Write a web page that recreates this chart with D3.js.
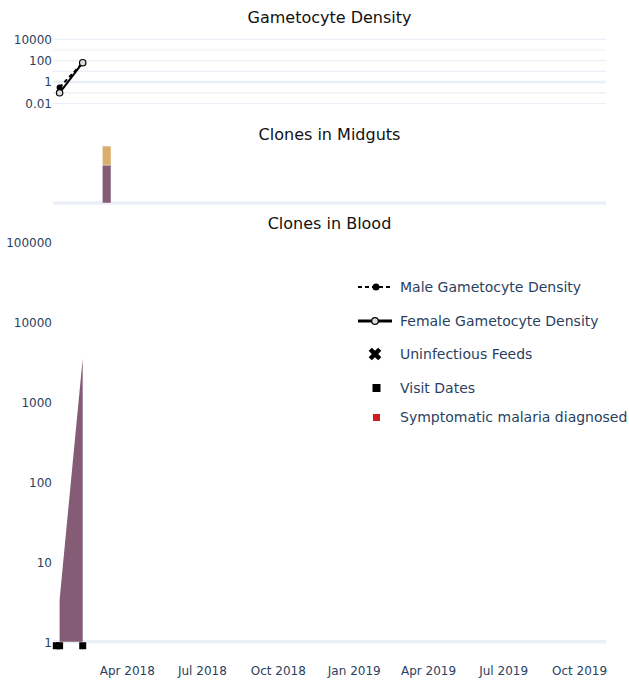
<!DOCTYPE html>
<html>
<head>
<meta charset="utf-8">
<title>Gametocytes and clones</title>
<style>
body{ margin:0; background:#fff; }
svg text{ font-family:"DejaVu Sans", Verdana, sans-serif; }
.tick-label{ font-size:12px; fill:#2a3f5f; }
.panel-title{ font-size:16px; fill:#111; }
.legend-label{ font-size:14px; fill:#2a3f5f; }
</style>
</head>
<body>
<svg id="chart"></svg>
<script src="https://d3js.org/d3.v7.min.js"></script>
<script>
var parse = d3.timeParse("%Y-%m-%d");

// gametocyte density
var gamDates = ["2018-01-09", "2018-02-06"];
var maleGam = [0.32, 65];
var femaleGam = [0.1, 65];

// clones in midguts (stacked)
var midgutDate = "2018-03-07";
var midgutClones = [2, 1];
var cloneColors = ["#855c75", "#d9af6b"];

// clones in blood
var bloodDates = ["2018-01-09", "2018-02-06"];
var bloodDensity = [3.35, 3500];

var visitDates = ["2018-01-05", "2018-01-09", "2018-02-06"];
var visitLevel = 0.89;

var xTicks = ["2018-04-01", "2018-07-01", "2018-10-01", "2019-01-01", "2019-04-01", "2019-07-01", "2019-10-01"];
var xTickLabels = ["Apr 2018", "Jul 2018", "Oct 2018", "Jan 2019", "Apr 2019", "Jul 2019", "Oct 2019"];
var gamGrid = [0.01, 0.1, 1, 10, 100, 1000, 10000];
var gamTicks = [0.01, 1, 100, 10000];
var bloodTicks = [1, 10, 100, 1000, 10000, 100000];

var legendNames = ["Male Gametocyte Density", "Female Gametocyte Density", "Uninfectious Feeds", "Visit Dates", "Symptomatic malaria diagnosed"];

var width = 629, height = 686;
var gridColor = "#ebf0f8";

var svg = d3.select("#chart")
    .attr("width", width)
    .attr("height", height);

var x = d3.scaleTime()
    .domain([parse("2018-01-01"), parse("2019-11-02")])
    .range([53, 606]);

var yGam = d3.scaleLog().domain([0.01, 10000]).range([103.5, 39.3]);
var yMid = d3.scaleLinear().domain([0, 3.16]).range([203, 143]);
var yBlood = d3.scaleLog().domain([1, 100000]).range([641.7, 241.7]);

// titles
var titles = [["Gametocyte Density", 17], ["Clones in Midguts", 134], ["Clones in Blood", 223]];
svg.selectAll(".panel-title")
    .data(titles)
    .enter().append("text")
    .attr("class", "panel-title")
    .attr("x", 329.5)
    .attr("y", function(d){ return d[1]; })
    .attr("dy", "0.35em")
    .attr("text-anchor", "middle")
    .text(function(d){ return d[0]; });

// ---- gametocyte panel
svg.append("g").selectAll("line")
    .data(gamGrid)
    .enter().append("line")
    .attr("x1", x.range()[0]).attr("x2", x.range()[1])
    .attr("y1", function(d){ return yGam(d); })
    .attr("y2", function(d){ return yGam(d); })
    .attr("stroke", gridColor)
    .attr("stroke-width", function(d){ return d == 1 ? 2.5 : 1.2; });

svg.append("g").selectAll("text")
    .data(gamTicks)
    .enter().append("text")
    .attr("class", "tick-label")
    .attr("x", 52)
    .attr("y", function(d){ return yGam(d); })
    .attr("dy", "0.35em")
    .attr("text-anchor", "end")
    .text(function(d){ return d3.format("~g")(d); });

var gamLine = d3.line()
    .x(function(d){ return x(parse(d[0])); })
    .y(function(d){ return yGam(d[1]); });

var maleData = d3.zip(gamDates, maleGam);
var femaleData = d3.zip(gamDates, femaleGam);

svg.append("path")
    .datum(femaleData)
    .attr("d", gamLine)
    .attr("fill", "none")
    .attr("stroke", "#000")
    .attr("stroke-width", 2);
svg.append("path")
    .datum(maleData)
    .attr("d", gamLine)
    .attr("fill", "none")
    .attr("stroke", "#000")
    .attr("stroke-width", 2)
    .attr("stroke-dasharray", "4,3");

svg.append("g").selectAll("circle")
    .data(maleData)
    .enter().append("circle")
    .attr("cx", function(d){ return x(parse(d[0])); })
    .attr("cy", function(d){ return yGam(d[1]); })
    .attr("r", 3)
    .attr("fill", "#000");
svg.append("g").selectAll("circle")
    .data(femaleData)
    .enter().append("circle")
    .attr("cx", function(d){ return x(parse(d[0])); })
    .attr("cy", function(d){ return yGam(d[1]); })
    .attr("r", 3.2)
    .attr("fill", "#ddd")
    .attr("stroke", "#000")
    .attr("stroke-width", 1.2);

// ---- midgut panel
svg.append("line")
    .attr("x1", x.range()[0]).attr("x2", x.range()[1])
    .attr("y1", yMid(0)).attr("y2", yMid(0))
    .attr("stroke", gridColor)
    .attr("stroke-width", 3.5);

var barDays = 10.5;
var stacked = [];
var acc = 0;
midgutClones.forEach(function(v, i){
    stacked.push({y0: acc, y1: acc + v, color: cloneColors[i]});
    acc += v;
});
var mDate = parse(midgutDate);
svg.append("g").selectAll("rect")
    .data(stacked)
    .enter().append("rect")
    .attr("x", x(d3.timeHour.offset(mDate, -barDays * 12)))
    .attr("width", x(d3.timeHour.offset(mDate, barDays * 12)) - x(d3.timeHour.offset(mDate, -barDays * 12)))
    .attr("y", function(d){ return yMid(d.y1); })
    .attr("height", function(d){ return yMid(d.y0) - yMid(d.y1); })
    .attr("fill", function(d){ return d.color; })
    .attr("stroke", "#fff")
    .attr("stroke-width", 0.4);

// ---- blood panel
svg.append("line")
    .attr("x1", x.range()[0]).attr("x2", x.range()[1])
    .attr("y1", yBlood(1)).attr("y2", yBlood(1))
    .attr("stroke", gridColor)
    .attr("stroke-width", 3.5);

svg.append("g").selectAll("text")
    .data(bloodTicks)
    .enter().append("text")
    .attr("class", "tick-label")
    .attr("x", 52)
    .attr("y", function(d){ return yBlood(d) + 0.7; })
    .attr("dy", "0.35em")
    .attr("text-anchor", "end")
    .text(function(d){ return d; });

var bloodArea = d3.area()
    .x(function(d){ return x(parse(d[0])); })
    .y0(yBlood(1))
    .y1(function(d){ return yBlood(d[1]); });

svg.append("path")
    .datum(d3.zip(bloodDates, bloodDensity))
    .attr("d", bloodArea)
    .attr("fill", cloneColors[0]);

svg.append("g").selectAll("path")
    .data(visitDates)
    .enter().append("path")
    .attr("d", d3.symbol(d3.symbolSquare, 49))
    .attr("transform", function(d){ return "translate(" + x(parse(d)) + "," + yBlood(visitLevel) + ")"; })
    .attr("fill", "#000");

// x axis labels
svg.append("g").selectAll("text")
    .data(xTicks)
    .enter().append("text")
    .attr("class", "tick-label")
    .attr("x", function(d){ return x(parse(d)); })
    .attr("y", 671)
    .attr("dy", "0.35em")
    .attr("text-anchor", "middle")
    .text(function(d, i){ return xTickLabels[i]; });

// ---- legend
var legendY = [287, 321, 354, 388, 417.5];
var lg = svg.append("g");
lg.selectAll("text")
    .data(legendNames)
    .enter().append("text")
    .attr("class", "legend-label")
    .attr("x", 400)
    .attr("y", function(d, i){ return legendY[i]; })
    .attr("dy", "0.35em")
    .text(function(d){ return d; });

lg.append("line")
    .attr("x1", 358).attr("x2", 392)
    .attr("y1", legendY[0]).attr("y2", legendY[0])
    .attr("stroke", "#000").attr("stroke-width", 2)
    .attr("stroke-dasharray", "4,3");
lg.append("circle")
    .attr("cx", 376).attr("cy", legendY[0]).attr("r", 3.5)
    .attr("fill", "#000");

lg.append("line")
    .attr("x1", 358).attr("x2", 392)
    .attr("y1", legendY[1]).attr("y2", legendY[1])
    .attr("stroke", "#000").attr("stroke-width", 3);
lg.append("circle")
    .attr("cx", 375).attr("cy", legendY[1]).attr("r", 3.3)
    .attr("fill", "#ddd").attr("stroke", "#000").attr("stroke-width", 1.2);

lg.append("path")
    .attr("d", d3.symbol(d3.symbolCross, 100))
    .attr("transform", "translate(375," + legendY[2] + ") rotate(45)")
    .attr("fill", "#000");

lg.append("path")
    .attr("d", d3.symbol(d3.symbolSquare, 64))
    .attr("transform", "translate(376.5," + legendY[3] + ")")
    .attr("fill", "#000");

lg.append("path")
    .attr("d", d3.symbol(d3.symbolSquare, 49))
    .attr("transform", "translate(376.5," + legendY[4] + ")")
    .attr("fill", "#d01c1c");
</script>
</body>
</html>
